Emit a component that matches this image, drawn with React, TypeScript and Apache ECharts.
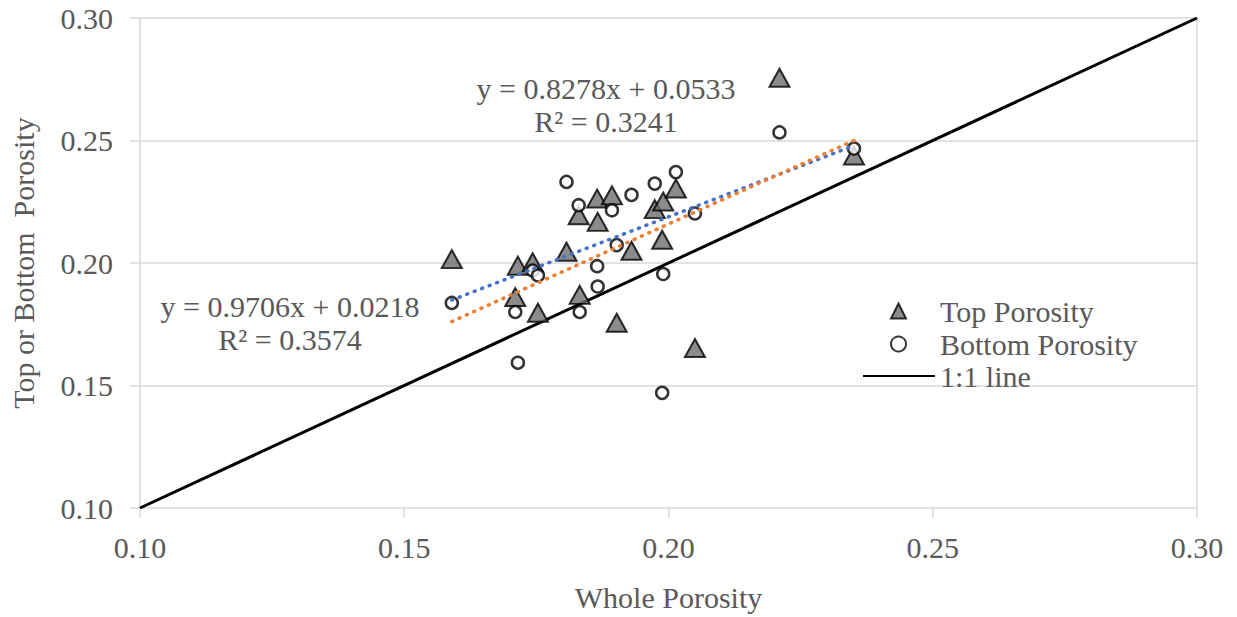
import React, { useEffect, useRef } from "react";
import * as echarts from "echarts";

const wholePorosity = [
  0.159, 0.171, 0.1715, 0.1743, 0.1753, 0.1807, 0.1830, 0.1832, 0.1865, 0.1866,
  0.1893, 0.1902, 0.1930, 0.1974, 0.1990, 0.1988, 0.2014, 0.2050, 0.2210, 0.2351,
];
const topPorosity = [
  0.2016, 0.1861, 0.1989, 0.2003, 0.1797, 0.2046, 0.2195, 0.1870, 0.2263, 0.2168,
  0.2276, 0.1756, 0.2050, 0.2220, 0.2251, 0.2095, 0.2304, 0.1653, 0.2756, 0.2439,
];
const bottomPorosity = [
  0.1837, 0.1800, 0.1593, 0.1969, 0.1949, 0.2331, 0.2236, 0.1800, 0.1987, 0.1904,
  0.2215, 0.2073, 0.2278, 0.2324, 0.1955, 0.1470, 0.2371, 0.2202, 0.2533, 0.2467,
];
const topTrend = [
  [0.159, 0.1849],
  [0.2351, 0.2479],
];
const bottomTrend = [
  [0.159, 0.1761],
  [0.2351, 0.25],
];
const oneToOne = [
  [0.1, 0.1],
  [0.3, 0.3],
];
const topLabel = ["y = 0.8278x + 0.0533", "R² = 0.3241"];
const bottomLabel = ["y = 0.9706x + 0.0218", "R² = 0.3574"];

const FONT = "'Liberation Serif', 'Times New Roman', serif";
const GRAY = "#595959";

export default function App() {
  const ref = useRef<HTMLDivElement>(null);
  useEffect(() => {
    if (!ref.current) return;
    const chart = echarts.init(ref.current, null, { renderer: "svg" });
    const fs = 30;
    const txt = (text: string, x: number, y: number) => ({
      type: "text",
      x,
      y,
      style: { text, font: `${fs}px ${FONT}`, fill: GRAY, align: "center", verticalAlign: "middle" },
    });
    chart.setOption({
      animation: false,
      backgroundColor: "#fff",
      textStyle: { fontFamily: FONT },
      grid: { left: 140, top: 18, right: 40, bottom: 107, containLabel: false },
      xAxis: {
        type: "value",
        min: 0.1,
        max: 0.3,
        interval: 0.05,
        name: "Whole Porosity",
        nameLocation: "middle",
        nameGap: 74,
        nameTextStyle: { fontFamily: FONT, fontSize: fs, color: GRAY },
        axisLine: { show: false },
        axisTick: { show: true, length: 10, lineStyle: { color: "#d9d9d9", width: 1.5 } },
        axisLabel: {
          margin: 24,
          fontFamily: FONT,
          fontSize: fs,
          color: GRAY,
          formatter: (v: number) => v.toFixed(2),
        },
        splitLine: { show: false },
      },
      yAxis: [
        {
          type: "value",
          min: 0.1,
          max: 0.3,
          interval: 0.05,
          name: "Top or Bottom  Porosity",
          nameLocation: "middle",
          nameGap: 102,
          nameTextStyle: { fontFamily: FONT, fontSize: fs, color: GRAY },
          axisLine: { show: true, lineStyle: { color: "#d9d9d9", width: 1.5 } },
          axisTick: { show: true, length: 10, lineStyle: { color: "#d9d9d9", width: 1.5 } },
          axisLabel: {
            margin: 27,
            fontFamily: FONT,
            fontSize: fs,
            color: GRAY,
            formatter: (v: number) => v.toFixed(2),
          },
          splitLine: { show: true, lineStyle: { color: "#d9d9d9", width: 1.5 } },
        },
        {
          type: "value",
          min: 0.1,
          max: 0.3,
          interval: 0.05,
          position: "right",
          axisLine: { show: true, lineStyle: { color: "#d9d9d9", width: 1.5 } },
          axisTick: { show: false },
          axisLabel: { show: false },
          splitLine: { show: false },
        },
      ],
      legend: [
        {
          orient: "vertical",
          left: 885,
          top: 291,
          itemWidth: 15,
          itemHeight: 15,
          itemGap: 3,
          data: ["Top Porosity", "Bottom Porosity"],
          textStyle: { fontFamily: FONT, fontSize: fs, color: GRAY, lineHeight: 30, padding: [0, 0, 0, 29] },
        },
        {
          orient: "vertical",
          left: 857,
          top: 356,
          itemWidth: 72,
          itemHeight: 14,
          data: [{ name: "1:1 line", itemStyle: { opacity: 0 } }],
          textStyle: { fontFamily: FONT, fontSize: fs, color: GRAY, lineHeight: 30, padding: [0, 0, 0, 0] },
        },
      ],
      graphic: [
        txt(topLabel[0], 606, 88),
        txt(topLabel[1], 606, 121),
        txt(bottomLabel[0], 290, 306),
        txt(bottomLabel[1], 290, 339),
      ],
      series: [
        {
          name: "1:1 line",
          type: "line",
          data: oneToOne,
          symbol: "none",
          lineStyle: { color: "#000", width: 3 },
          itemStyle: { color: "#000" },
          z: 1,
        },
        {
          name: "Top Porosity",
          type: "scatter",
          data: wholePorosity.map((x, i) => [x, topPorosity[i]]),
          symbol: "triangle",
          symbolSize: [20, 18],
          itemStyle: { color: "#6e6e6e", borderColor: "#000", borderWidth: 2 },
          z: 2,
        },
        {
          name: "Bottom Porosity",
          type: "scatter",
          data: wholePorosity.map((x, i) => [x, bottomPorosity[i]]),
          symbol: "circle",
          symbolSize: 12,
          itemStyle: { color: "#fff", borderColor: "#000", borderWidth: 2.5 },
          z: 3,
        },
        {
          name: "Top trend",
          type: "line",
          data: topTrend,
          symbol: "none",
          lineStyle: { color: "#4472C4", width: 3.5, type: [1, 7], cap: "round" },
          z: 4,
        },
        {
          name: "Bottom trend",
          type: "line",
          data: bottomTrend,
          symbol: "none",
          lineStyle: { color: "#ED7D31", width: 3.5, type: [1, 7], cap: "round" },
          z: 4,
        },
      ],
    });
    return () => chart.dispose();
  }, []);
  return (
    <div
      ref={ref}
      style={{ position: "fixed", left: 0, top: 0, width: 1237, height: 617, background: "#fff" }}
    />
  );
}
